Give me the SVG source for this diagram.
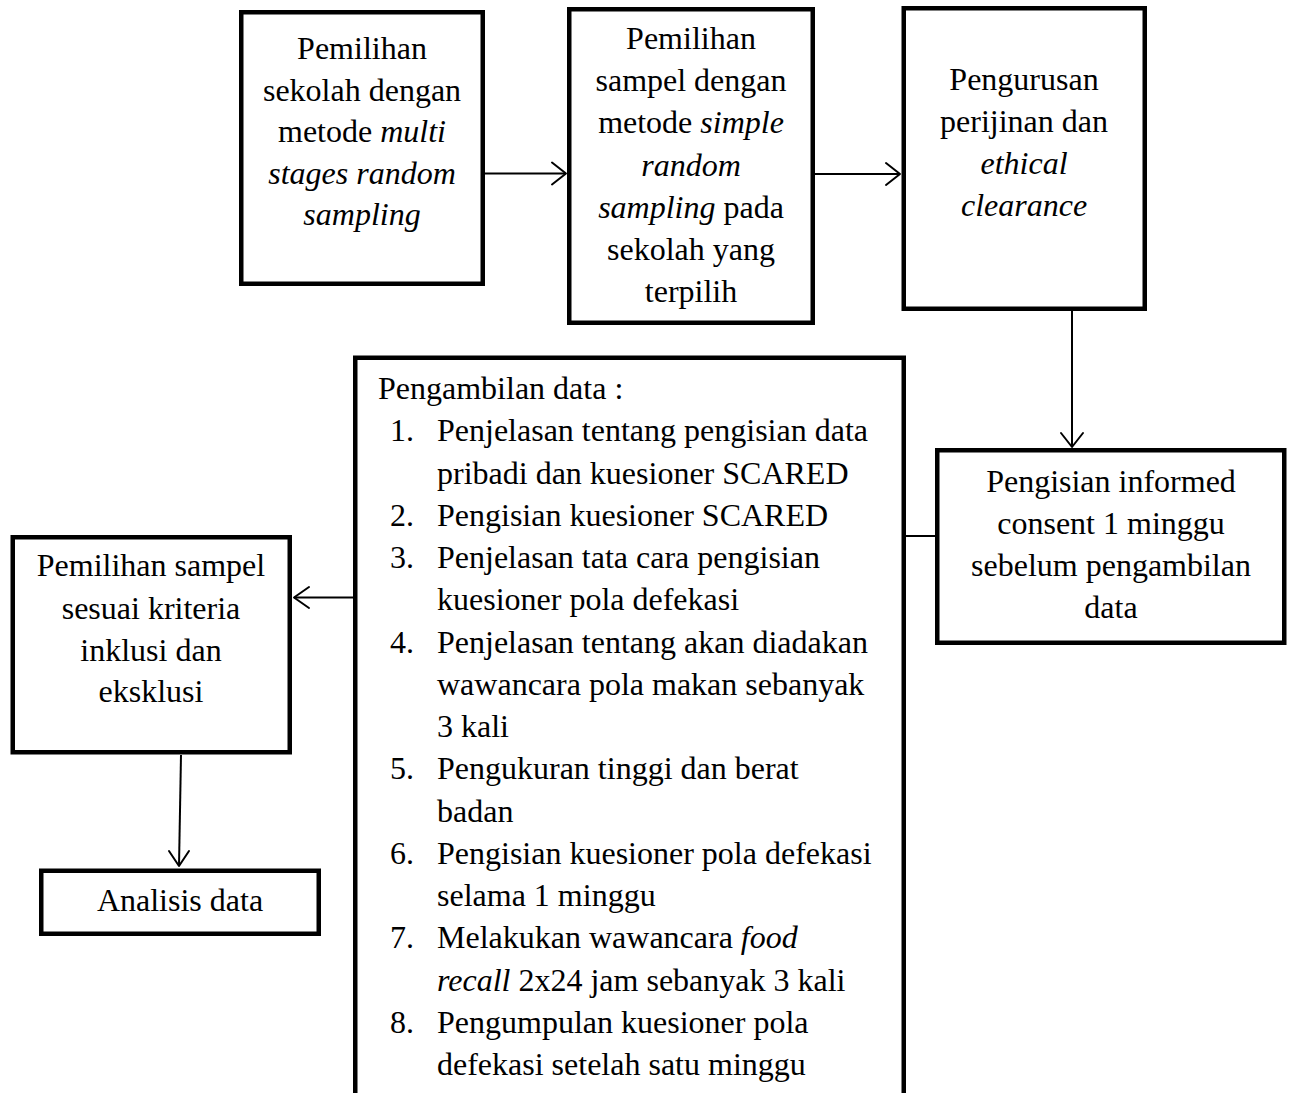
<svg xmlns="http://www.w3.org/2000/svg" width="1291" height="1093" viewBox="0 0 1291 1093">
<style>
.box{fill:#fff;stroke:#000;stroke-width:4.5;stroke-linejoin:miter}
.t{font-family:"Liberation Serif","Times New Roman",serif;font-size:32px;fill:#000}
.c{text-anchor:middle}
.i{font-style:italic}
.conn{fill:none;stroke:#000;stroke-width:2}
.head{fill:none;stroke:#000;stroke-width:2;stroke-linecap:round;stroke-linejoin:round}
</style>
<rect width="1291" height="1093" fill="#fff"/>
<g id="connectors">
<line class="conn" x1="485" y1="173.5" x2="566" y2="173.5"/>
<polyline class="head" points="552,162.5 566,173.5 552,184.5"/>
<line class="conn" x1="815" y1="174" x2="900" y2="174"/>
<polyline class="head" points="886,163 900,174 886,185"/>
<line class="conn" x1="1072" y1="310" x2="1072" y2="447"/>
<polyline class="head" points="1061,433 1072,447 1083,433"/>
<line class="conn" x1="905" y1="536" x2="935" y2="536"/>
<line class="conn" x1="353" y1="597.5" x2="294" y2="597.5"/>
<polyline class="head" points="309,587 294,597.5 309,608"/>
<line class="conn" x1="181" y1="755" x2="179" y2="866"/>
<polyline class="head" points="169,851 179,866 189,851"/>
</g>
<g id="node-sekolah">
<rect class="box" x="241.25" y="12.25" width="241.5" height="271.5"/>
<text class="t c" x="362" y="59">Pemilihan</text>
<text class="t c" x="362" y="100.5">sekolah dengan</text>
<text class="t c" x="362" y="142">metode <tspan class="i">multi</tspan></text>
<text class="t c i" x="362" y="183.5">stages random</text>
<text class="t c i" x="362" y="225">sampling</text>
</g>
<g id="node-sampel">
<rect class="box" x="569.25" y="9.25" width="243.5" height="313.5"/>
<text class="t c" x="691" y="49">Pemilihan</text>
<text class="t c" x="691" y="91.2">sampel dengan</text>
<text class="t c" x="691" y="133.4">metode <tspan class="i">simple</tspan></text>
<text class="t c i" x="691" y="175.6">random</text>
<text class="t c" x="691" y="217.8"><tspan class="i">sampling</tspan> pada</text>
<text class="t c" x="691" y="260">sekolah yang</text>
<text class="t c" x="691" y="302.2">terpilih</text>
</g>
<g id="node-perijinan">
<rect class="box" x="903.75" y="8.25" width="241" height="300.5"/>
<text class="t c" x="1024" y="90">Pengurusan</text>
<text class="t c" x="1024" y="132">perijinan dan</text>
<text class="t c i" x="1024" y="174">ethical</text>
<text class="t c i" x="1024" y="216">clearance</text>
</g>
<g id="node-informed">
<rect class="box" x="937.25" y="450.25" width="347" height="192.5"/>
<text class="t c" x="1111" y="492">Pengisian informed</text>
<text class="t c" x="1111" y="534">consent 1 minggu</text>
<text class="t c" x="1111" y="576">sebelum pengambilan</text>
<text class="t c" x="1111" y="618">data</text>
</g>
<g id="node-pengambilan">
<rect class="box" x="355.25" y="357.75" width="548.5" height="760"/>
<text class="t" x="378" y="399">Pengambilan data :</text>
<text class="t" x="390" y="441.25">1.</text>
<text class="t" x="437" y="441.25">Penjelasan tentang pengisian data</text>
<text class="t" x="437" y="483.5">pribadi dan kuesioner SCARED</text>
<text class="t" x="390" y="525.75">2.</text>
<text class="t" x="437" y="525.75">Pengisian kuesioner SCARED</text>
<text class="t" x="390" y="568">3.</text>
<text class="t" x="437" y="568">Penjelasan tata cara pengisian</text>
<text class="t" x="437" y="610.25">kuesioner pola defekasi</text>
<text class="t" x="390" y="652.5">4.</text>
<text class="t" x="437" y="652.5">Penjelasan tentang akan diadakan</text>
<text class="t" x="437" y="694.75">wawancara pola makan sebanyak</text>
<text class="t" x="437" y="737">3 kali</text>
<text class="t" x="390" y="779.25">5.</text>
<text class="t" x="437" y="779.25">Pengukuran tinggi dan berat</text>
<text class="t" x="437" y="821.5">badan</text>
<text class="t" x="390" y="863.75">6.</text>
<text class="t" x="437" y="863.75">Pengisian kuesioner pola defekasi</text>
<text class="t" x="437" y="906">selama 1 minggu</text>
<text class="t" x="390" y="948.25">7.</text>
<text class="t" x="437" y="948.25">Melakukan wawancara <tspan class="i">food</tspan></text>
<text class="t" x="437" y="990.5"><tspan class="i">recall</tspan> 2x24 jam sebanyak 3 kali</text>
<text class="t" x="390" y="1032.75">8.</text>
<text class="t" x="437" y="1032.75">Pengumpulan kuesioner pola</text>
<text class="t" x="437" y="1075">defekasi setelah satu minggu</text>
</g>
<g id="node-kriteria">
<rect class="box" x="12.75" y="537.25" width="277" height="215"/>
<text class="t c" x="151" y="576">Pemilihan sampel</text>
<text class="t c" x="151" y="619">sesuai kriteria</text>
<text class="t c" x="151" y="661">inklusi dan</text>
<text class="t c" x="151" y="702">eksklusi</text>
</g>
<g id="node-analisis">
<rect class="box" x="41.25" y="870.75" width="277.5" height="63"/>
<text class="t c" x="180" y="911">Analisis data</text>
</g>
</svg>
